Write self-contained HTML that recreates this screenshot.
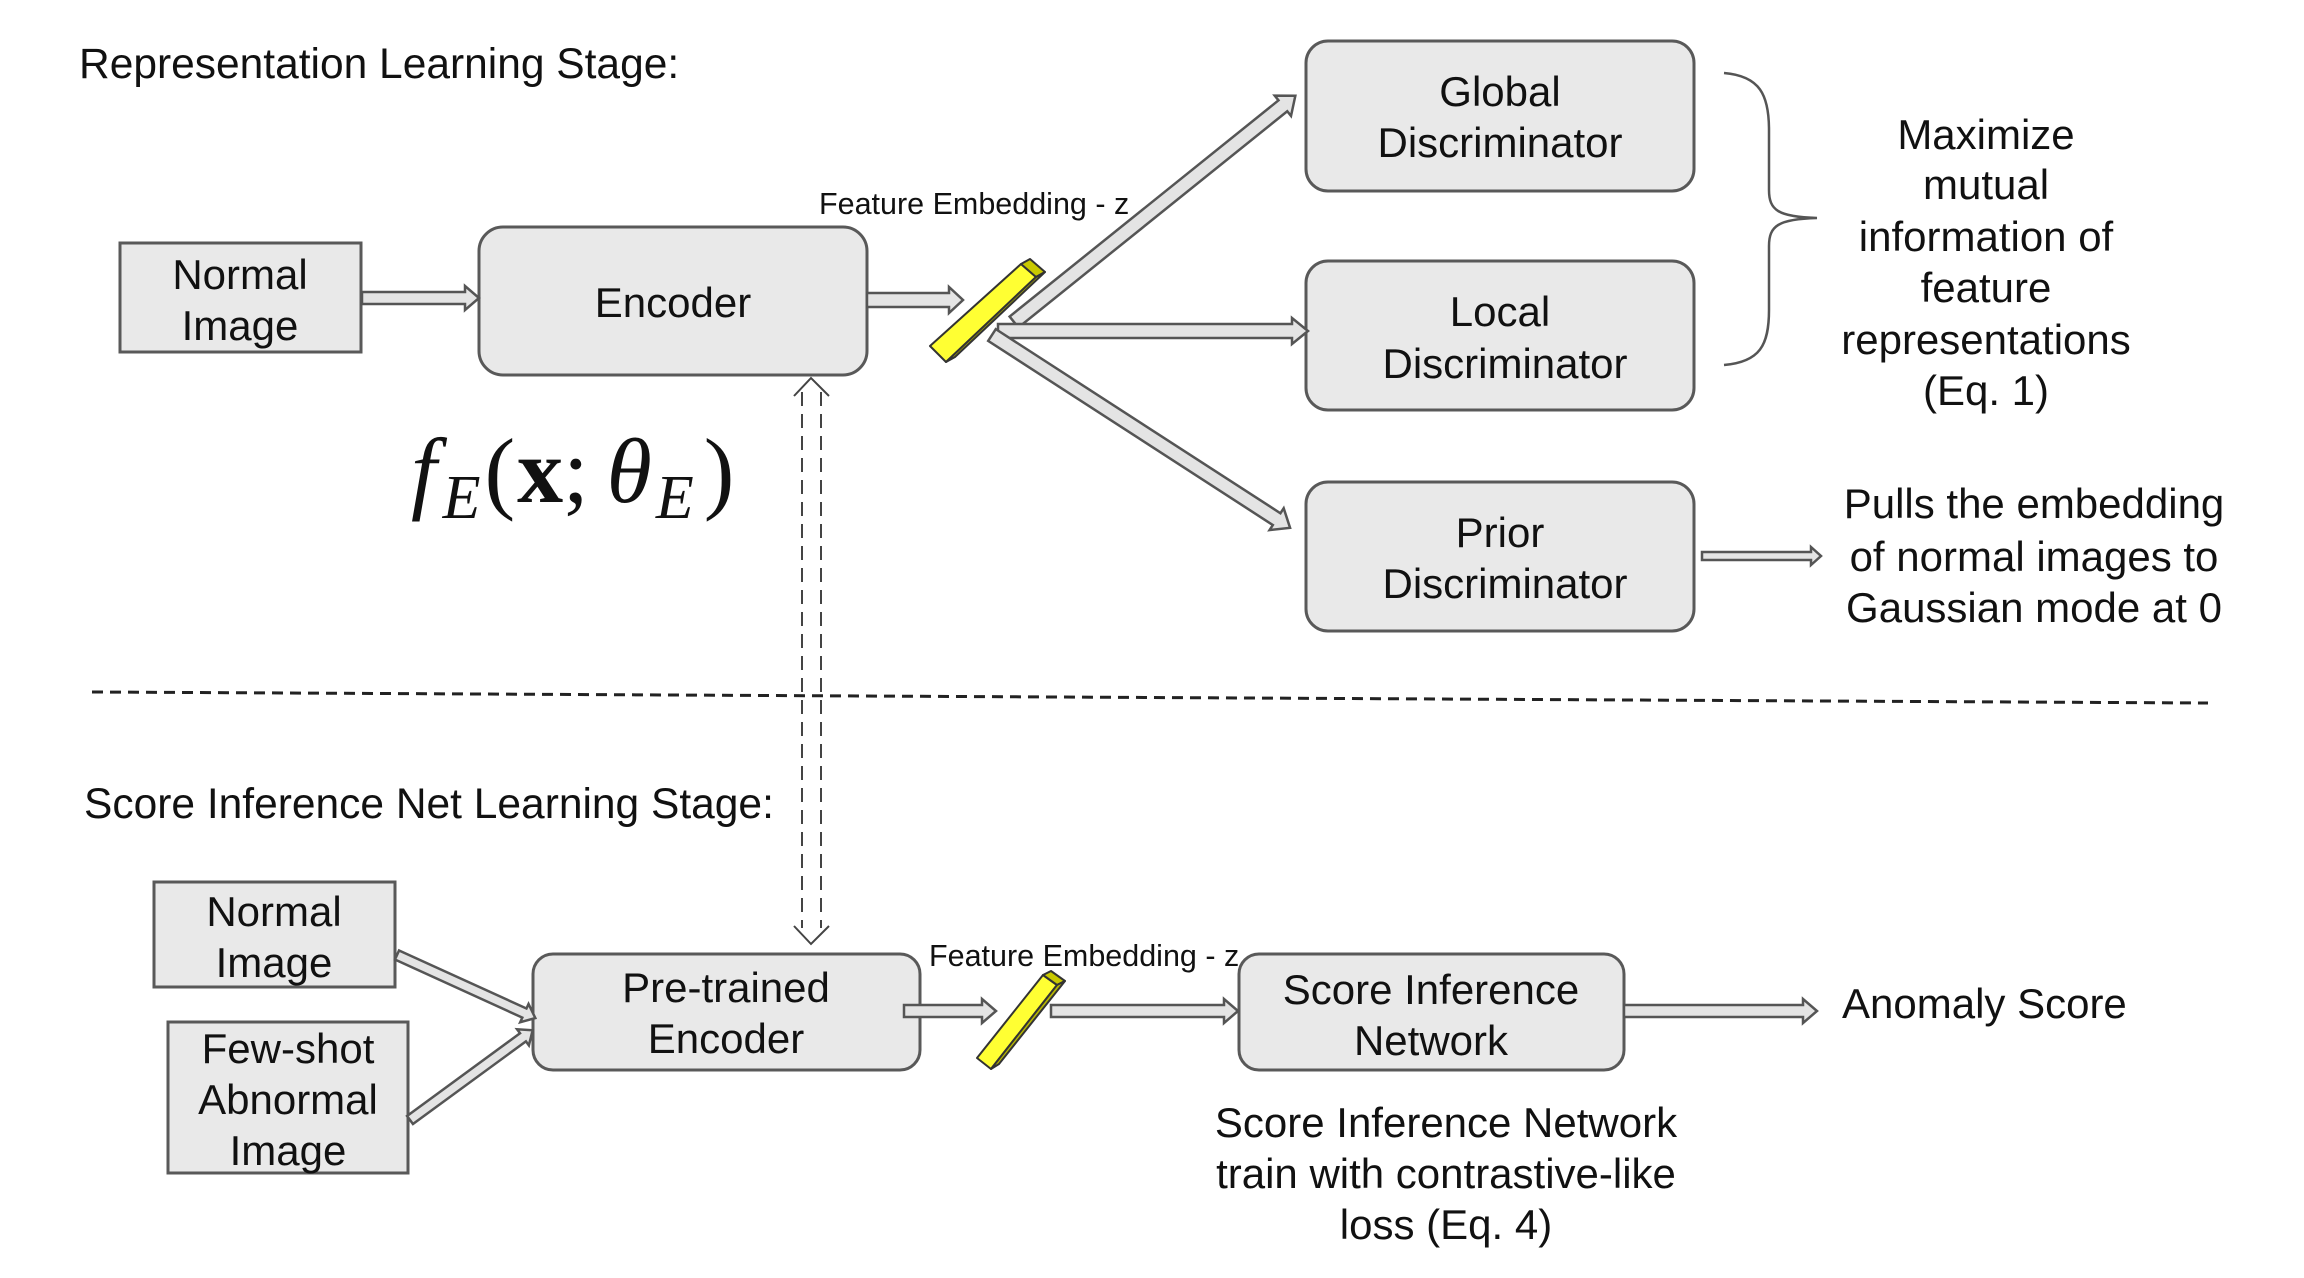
<!DOCTYPE html>
<html><head><meta charset="utf-8"><style>
html,body{margin:0;padding:0;background:#fff}
svg{display:block}
text{font-family:"Liberation Sans",Arial,sans-serif;fill:#111}
</style></head><body>
<svg width="2304" height="1278" viewBox="0 0 2304 1278" xmlns="http://www.w3.org/2000/svg">
<g font-size="42.5">
<text x="79" y="78">Representation Learning Stage:</text>
<text x="84" y="818">Score Inference Net Learning Stage:</text>
</g>

<g fill="#e9e9e9" stroke="#595959" stroke-width="3">
<rect x="120" y="243" width="241" height="109"/>
<rect x="479" y="227" width="388" height="148" rx="24"/>
<rect x="1306" y="41" width="388" height="150" rx="22"/>
<rect x="1306" y="261" width="388" height="149" rx="22"/>
<rect x="1306" y="482" width="388" height="149" rx="22"/>
<rect x="154" y="882" width="241" height="105"/>
<rect x="168" y="1022" width="240" height="151"/>
<rect x="533" y="954" width="387" height="116" rx="20"/>
<rect x="1239" y="954" width="385" height="116" rx="20"/>
</g>

<g fill="#e4e4e4" stroke="#555" stroke-width="2.5" stroke-linejoin="miter">
<g transform="translate(362,298)"><path d="M0,-6 L103,-6 L103,-12 L117,0 L103,12 L103,6 L0,6 Z"/></g>
<g transform="translate(867,300)"><path d="M0,-7 L82,-7 L82,-13 L96,0 L82,13 L82,7 L0,7 Z"/></g>
<g transform="translate(1014,322) rotate(-38.8)"><path d="M0,-7 L345,-7 L345,-13 L361,0 L345,13 L345,7 L0,7 Z"/></g>
<g transform="translate(998,331)"><path d="M0,-7 L294,-7 L294,-13 L310,0 L294,13 L294,7 L0,7 Z"/></g>
<g transform="translate(992,335) rotate(32.9)"><path d="M0,-7 L339,-7 L339,-13 L355,0 L339,13 L339,7 L0,7 Z"/></g>
<g transform="translate(1702,556)"><path d="M0,-4 L109,-4 L109,-9 L119,0 L109,9 L109,4 L0,4 Z"/></g>
<g transform="translate(397,955) rotate(24.5)"><path d="M0,-5 L140,-5 L140,-10 L152,0 L140,10 L140,5 L0,5 Z"/></g>
<g transform="translate(410,1120) rotate(-36.2)"><path d="M0,-5 L140,-5 L140,-10 L152,0 L140,10 L140,5 L0,5 Z"/></g>
<g transform="translate(904,1011)"><path d="M0,-6 L78,-6 L78,-12 L92,0 L78,12 L78,6 L0,6 Z"/></g>
<g transform="translate(1051,1011)"><path d="M0,-6 L173,-6 L173,-12 L187,0 L173,12 L173,6 L0,6 Z"/></g>
<g transform="translate(1624,1011)"><path d="M0,-6 L179,-6 L179,-12 L193,0 L179,12 L179,6 L0,6 Z"/></g>
</g>

<g stroke="#333" stroke-width="2" stroke-linejoin="round">
<polygon points="930,346 1021,264 1036,277 946,362" fill="#ffff33"/>
<polygon points="1021,264 1030,259 1045,272 1036,277" fill="#c9c900"/>
<polygon points="946,362 1036,277 1045,272 955,357" fill="#b8b800"/>
<polygon points="977,1058 1043,975 1057,985 991,1069" fill="#ffff33"/>
<polygon points="1043,975 1051,971 1065,981 1057,985" fill="#c9c900"/>
<polygon points="991,1069 1057,985 1065,981 999,1064" fill="#b8b800"/>
</g>

<line x1="92" y1="692" x2="2208" y2="703" stroke="#222" stroke-width="3" stroke-dasharray="11,7"/>
<g stroke="#444" stroke-width="2" fill="none" stroke-dasharray="14,8">
<line x1="802" y1="392" x2="802" y2="928"/>
<line x1="821" y1="392" x2="821" y2="928"/>
</g>
<g stroke="#444" stroke-width="2" fill="none">
<polyline points="794,396 811,378 829,396"/>
<polyline points="794,926 811,944 829,926"/>
</g>

<path d="M1724,73 C1760,76 1769,95 1769,130 L1769,190 C1769,210 1778,217 1817,218 C1778,219 1769,226 1769,246 L1769,310 C1769,345 1760,362 1724,365" fill="none" stroke="#555" stroke-width="2.5"/>

<g font-size="30.5">
<text x="819" y="214">Feature Embedding - z</text>
<text x="929" y="966">Feature Embedding - z</text>
</g>
<g font-size="42" text-anchor="middle">
<text x="240" y="289">Normal</text>
<text x="240" y="340">Image</text>
<text x="673" y="317">Encoder</text>
<text x="1500" y="106">Global</text>
<text x="1500" y="157">Discriminator</text>
<text x="1500" y="326">Local</text>
<text x="1505" y="378">Discriminator</text>
<text x="1500" y="547">Prior</text>
<text x="1505" y="598">Discriminator</text>
<text x="1986" y="149">Maximize</text>
<text x="1986" y="199">mutual</text>
<text x="1986" y="251">information of</text>
<text x="1986" y="302">feature</text>
<text x="1986" y="354">representations</text>
<text x="1986" y="405">(Eq. 1)</text>
<text x="2034" y="518">Pulls the embedding</text>
<text x="2034" y="571">of normal images to</text>
<text x="2034" y="622">Gaussian mode at 0</text>
<text x="274" y="926">Normal</text>
<text x="274" y="977">Image</text>
<text x="288" y="1063">Few-shot</text>
<text x="288" y="1114">Abnormal</text>
<text x="288" y="1165">Image</text>
<text x="726" y="1002">Pre-trained</text>
<text x="726" y="1053">Encoder</text>
<text x="1431" y="1004">Score Inference</text>
<text x="1431" y="1055">Network</text>
<text x="1446" y="1137">Score Inference Network</text>
<text x="1446" y="1188">train with contrastive-like</text>
<text x="1446" y="1239">loss (Eq. 4)</text>
</g>
<text x="1842" y="1018" font-size="42">Anomaly Score</text>

<text x="411" y="502" font-size="92" style="font-family:'Liberation Serif','DejaVu Serif',serif"><tspan font-style="italic">f</tspan><tspan font-style="italic" font-size="62" dx="6" dy="16">E</tspan><tspan dx="4" dy="-16">(</tspan><tspan font-weight="bold" dx="2">x</tspan><tspan>;</tspan><tspan font-style="italic" dx="18">θ</tspan><tspan font-style="italic" font-size="62" dx="4" dy="16">E</tspan><tspan dx="10" dy="-16">)</tspan></text>
</svg>
</body></html>
